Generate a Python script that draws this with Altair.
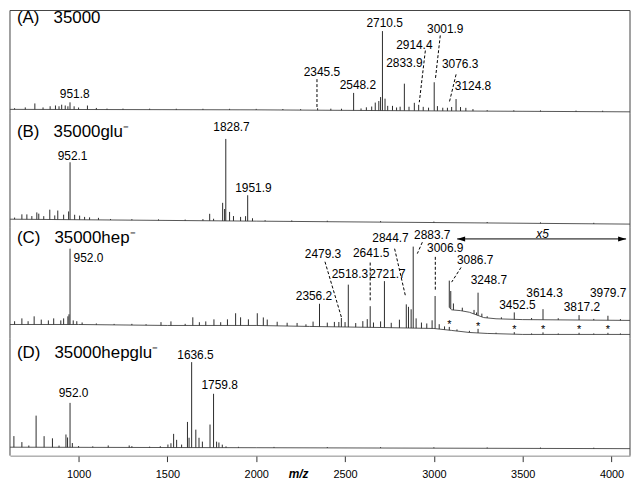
import altair as alt
import numpy as np
import pandas as pd

FONT = "Liberation Sans, Arial, Helvetica, sans-serif"
INK = "#2b2b2b"
W = 624
X_DOMAIN = [614, 4104]
TICKS = [1000, 1500, 2000, 2500, 3000, 3500, 4000]

# ---------------- Panel A : 35000 ----------------
A_title = "(A)\u00a0\u00a0\u00a035000"
A_base = [(614, 0), (2000, -0.6), (3000, -1.9), (4104, -3.1)]
A_peaks = [(640, 1.5), (700, 2.5), (754, 7.5), (800, 2.5), (840, 4), (870, 5), (890, 4),
           (905, 6), (925, 5), (940, 4), (951.8, 9), (975, 4), (1000, 2.5), (1050, 5),
           (1100, 2), (1160, 1.2), (1250, 1.2), (1400, 1.2), (1550, 1.2), (1700, 1.2),
           (1850, 1.2), (2000, 1.2), (2150, 1.2), (2250, 1.2), (2345.5, 2.5), (2420, 2),
           (2480, 2), (2548.2, 22), (2590, 2.5), (2620, 4), (2650, 5), (2670, 10), (2690, 12),
           (2700, 17), (2710.5, 100), (2725, 15), (2740, 6), (2767, 6), (2790, 4), (2810, 5),
           (2833.9, 34), (2860, 5), (2890, 10), (2914.4, 7.5), (2940, 5), (2970, 4),
           (3001.9, 36), (3020, 6), (3050, 4), (3076.3, 4), (3100, 5), (3124.8, 15),
           (3150, 5), (3180, 4), (3220, 2.5), (3300, 1.2), (3450, 1.2), (3600, 1.2),
           (3800, 1.2), (3950, 1.2)]
A_labels = [("951.8", 978, 19.4), ("2345.5", 2370, 47), ("2548.2", 2572, 31),
            ("2710.5", 2723, 108.5), ("2833.9", 2834, 58), ("2914.4", 2890, 81.5),
            ("3001.9", 3064, 101), ("3076.3", 3148, 56.5), ("3124.8", 3220, 29)]
A_leaders = [(2342, 38, 2342, 2), (2952, 74, 2918, 9), (3036, 93, 3008, 37),
             (3125, 44, 3086, 8)]

# ---------------- Panel B : 35000glu- ----------------
B_title = "(B)\u00a0\u00a0\u00a035000glu\u207b"
B_base = [(614, 1.8), (2000, -0.6), (4104, -4.2)]
B_peaks = [(640, 2), (681, 6), (709, 6), (737, 4), (765, 8.5), (776, 7), (804, 4), (838, 12),
           (866, 5), (883, 11), (916, 6), (944, 10), (952.1, 70), (978, 6), (1006, 5),
           (1034, 3.5), (1062, 3), (1112, 2.5), (1180, 1.2), (1300, 1.2), (1450, 1.2),
           (1600, 1.2), (1700, 2), (1738, 8.5), (1760, 2.5), (1811, 22), (1822, 14.5),
           (1828.7, 100), (1850, 11), (1872, 6), (1912, 5), (1940, 6), (1951.9, 31.5),
           (1979, 3.5), (2050, 1.2), (2200, 1.2), (2400, 1.2), (2700, 1.2), (3000, 1.2),
           (3300, 1.2), (3600, 1.2), (3900, 1.2)]
B_labels = [("952.1", 966, 79), ("1828.7", 1861, 114), ("1951.9", 1984, 40)]
B_leaders = []

# ---------------- Panel C : 35000hep- ----------------
C_title = "(C)\u00a0\u00a0\u00a035000hep\u207b"
C_base = [(614, 0), (1000, 0), (1500, -1.2), (2000, -1.2), (2300, -2.4), (2700, -3.7),
          (3000, -4.9), (3100, -7.3), (3200, -9.8), (3300, -11), (3500, -12.2), (4104, -12.2)]
C_peaks = [(640, 4), (681, 7.5), (716, 4), (750, 10), (790, 6), (830, 5), (860, 7.5), (900, 5),
           (916, 7.5), (940, 10), (946, 12.5), (952.0, 93), (970, 5), (990, 4), (1020, 2.5),
           (1100, 1.5), (1200, 1.2), (1300, 1.5), (1380, 1.2), (1464, 4), (1520, 5), (1600, 2),
           (1643, 10), (1680, 4), (1716, 5), (1762, 7.5), (1800, 4), (1838, 7.5), (1884, 15),
           (1912, 10), (1956, 7.5), (2006, 15), (2040, 10), (2062, 7.5), (2118, 5), (2174, 4),
           (2230, 4), (2280, 2.5), (2320, 6), (2356.2, 28), (2400, 5), (2440, 6), (2465, 6),
           (2479.3, 11), (2500, 6), (2518.3, 52), (2560, 5), (2600, 7.5), (2625, 10),
           (2641.5, 26), (2660, 6), (2700, 7.5), (2721.7, 57), (2760, 6), (2806, 10),
           (2844.7, 29), (2857, 26), (2872, 23), (2883.7, 100), (2900, 12), (2930, 7),
           (2960, 6), (2990, 10), (3006.9, 40), (3030, 6), (3060, 4), (3086.7, 4), (3130, 2),
           (3200, 2), (3248.7, 5), (3350, 1.2), (3452.5, 2.5), (3550, 1.2), (3614.3, 2.5),
           (3700, 1.2), (3817.2, 2), (3900, 1.2), (3979.7, 2), (4050, 1.2)]
C5_base = [(3086, 21), (3100, 18), (3150, 17), (3200, 15), (3280, 8.5), (3350, 7),
           (3500, 6), (4104, 5)]
C5_peaks = [(3086.7, 33), (3095, 22), (3110, 8), (3160, 4), (3226, 5), (3240, 3),
            (3248.7, 28), (3270, 4), (3300, 2), (3380, 2), (3452.5, 8.5), (3550, 2),
            (3614.3, 13), (3700, 2), (3817.2, 6), (3900, 1.5), (3979.7, 5.5), (4050, 1.5)]
C_labels = [("952.0", 1056, 82), ("2356.2", 2325, 35), ("2479.3", 2376, 87),
            ("2518.3", 2527, 62), ("2641.5", 2647, 88), ("2721.7", 2739, 62),
            ("2844.7", 2756, 106), ("2883.7", 2991, 110), ("3006.9", 3064, 94),
            ("3086.7", 3232, 79), ("3248.7", 3310, 54), ("3452.5", 3470, 24),
            ("3614.3", 3623, 39), ("3817.2", 3833, 22), ("3979.7", 3981, 39)]
C_leaders = [(2387, 77, 2480, 8.5), (2641.5, 76, 2641.5, 29), (2779, 93, 2840, 35),
             (2935, 101, 2907, 87), (3008, 83, 3008, 41.5), (3153, 70, 3100, 52)]
C_stars_mz = [3086.7, 3248.7, 3452.5, 3614.3, 3817.2, 3979.7]
C_stars_int = [2.8, 0, -3.7, -3.7, -3.7, -3.7]
C_zoom_text = "x5"
C_zoom_span = (3131, 4082)
C_zoom_level = 105
C_zoom_text_pos = (3612, 111)

# ---------------- Panel D : 35000hepglu- ----------------
D_title = "(D)\u00a0\u00a0\u00a035000hepglu\u207b"
D_base = [(614, 0), (2000, -0.6), (4104, -1.7)]
D_peaks = [(636, 13), (681, 6), (720, 2), (761, 37), (806, 13), (853, 10.5), (890, 2),
           (929, 15), (938, 11.5), (952.0, 52), (965, 5), (1000, 1.5), (1080, 1.2),
           (1167, 2.3), (1285, 2.3), (1300, 1.5), (1400, 1), (1460, 1.5), (1503, 3.5),
           (1520, 5), (1535, 16), (1552, 9), (1580, 3.5), (1613, 30), (1622, 11.5),
           (1636.5, 100), (1660, 21), (1678, 11.5), (1697, 7), (1740, 27), (1759.8, 63),
           (1777, 7), (1790, 6), (1809, 3.5), (1830, 1.5), (1900, 1), (2100, 1), (2400, 1),
           (2700, 1), (3000, 1), (3300, 1), (3600, 1), (3900, 1)]
D_labels = [("952.0", 972, 63), ("1636.5", 1658, 107.5), ("1759.8", 1794, 73)]
D_leaders = []

xsc = alt.Scale(domain=X_DOMAIN, nice=False, zero=False)
ONE = pd.DataFrame({"k": [0]})


def trace_layers(base, peaks, X, Y):
    bdf = pd.DataFrame(base, columns=["mz", "y"])
    pdf = pd.DataFrame(peaks, columns=["mz", "h"])
    pdf["y0"] = np.interp(pdf["mz"], bdf["mz"], bdf["y"])
    pdf["y1"] = pdf["y0"] + pdf["h"]
    line = alt.Chart(bdf).mark_line(color=INK, strokeWidth=0.8).encode(x=X("mz"), y=Y("y"))
    rules = alt.Chart(pdf).mark_rule(color=INK, strokeWidth=1).encode(
        x=X("mz"), y=Y("y0"), y2=alt.Y2("y1"))
    return [line, rules]


def panel(title, title_y, H, b, hmax, base, peaks, labels, leaders, extra=None,
          axis=None, top=False):
    ysc = alt.Scale(domain=[-b * 100 / hmax, (H - b) * 100 / hmax], nice=False, zero=False)

    def X(f):
        return alt.X(f, type="quantitative", scale=xsc, axis=axis)

    def Y(f):
        return alt.Y(f, type="quantitative", scale=ysc, axis=None)

    layers = trace_layers(base, peaks, X, Y)
    if extra:
        layers += extra(X, Y)
    if leaders:
        ldf = pd.DataFrame(leaders, columns=["x1", "y1", "x2", "y2"])
        layers.append(alt.Chart(ldf).mark_rule(color="black", strokeWidth=1, strokeDash=[3, 2])
                      .encode(x=X("x1"), y=Y("y1"), x2=alt.X2("x2"), y2=alt.Y2("y2")))
    tdf = pd.DataFrame(labels, columns=["t", "mz", "y"])
    layers.append(alt.Chart(tdf).mark_text(font=FONT, fontSize=12, color="black",
                                           align="center", baseline="middle")
                  .encode(x=X("mz"), y=Y("y"), text="t:N"))
    layers.append(alt.Chart(pd.DataFrame({"t": [title]})).mark_text(
        font=FONT, fontSize=17, color="black", align="left", baseline="middle")
        .encode(x=alt.value(7), y=alt.value(title_y), text="t:N"))
    layers.append(alt.Chart(ONE).mark_rule(color="#444", strokeWidth=1).encode(
        x=alt.value(0), y=alt.value(0), y2=alt.value(H)))
    layers.append(alt.Chart(ONE).mark_rule(color="#444", strokeWidth=1).encode(
        x=alt.value(W), y=alt.value(0), y2=alt.value(H)))
    if top:
        layers.append(alt.Chart(ONE).mark_rule(color="#444", strokeWidth=1).encode(
            x=alt.value(0), x2=alt.value(W), y=alt.value(0)))
    return alt.layer(*layers).properties(width=W, height=H)


def c_extra(X, Y):
    out = trace_layers(C5_base, C5_peaks, X, Y)
    sdf = pd.DataFrame({"mz": C_stars_mz, "y": C_stars_int, "t": ["*"] * len(C_stars_mz)})
    out.append(alt.Chart(sdf).mark_text(font=FONT, fontSize=11, color="black",
                                        baseline="middle", dy=2.5)
               .encode(x=X("mz"), y=Y("y"), text="t:N"))
    adf = pd.DataFrame({"a": [C_zoom_span[0]], "b": [C_zoom_span[1]], "y": [C_zoom_level]})
    out.append(alt.Chart(adf).mark_rule(color="black", strokeWidth=1)
               .encode(x=X("a"), x2=alt.X2("b"), y=Y("y")))
    out.append(alt.Chart(adf).mark_point(shape="M 0 0 L 1 -0.32 L 1 0.32 Z", size=256,
                                         filled=True, color="black", opacity=1)
               .encode(x=X("a"), y=Y("y")))
    out.append(alt.Chart(adf).mark_point(shape="M 0 0 L -1 -0.32 L -1 0.32 Z", size=256,
                                         filled=True, color="black", opacity=1)
               .encode(x=X("b"), y=Y("y")))
    xdf = pd.DataFrame({"mz": [C_zoom_text_pos[0]], "y": [C_zoom_text_pos[1]], "t": [C_zoom_text]})
    out.append(alt.Chart(xdf).mark_text(font=FONT, fontSize=12, fontStyle="italic",
                                        color="black", baseline="middle")
               .encode(x=X("mz"), y=Y("y"), text="t:N"))
    return out


bottom_axis = alt.Axis(values=TICKS, tickSize=6, tickColor="#333", domainColor="#888",
                       labelFont=FONT, labelFontSize=11, labelColor="black", labelPadding=7,
                       grid=False, format="d", labelFlush=False,
                       title="m/z", titleFont=FONT, titleFontSize=12, titleFontStyle="italic",
                       titleFontWeight="bold", titleX=290, titleY=18, titleAlign="center",
                       titleBaseline="middle", titleColor="black")

pA = panel(A_title, 8, 104, 4.5, 80, A_base, A_peaks, A_labels, A_leaders, top=True)
pB = panel(B_title, 18, 114, 6.5, 82.5, B_base, B_peaks, B_labels, B_leaders)
pC = panel(C_title, 11, 112, 14, 82, C_base, C_peaks, C_labels, C_leaders, extra=c_extra)
pD = panel(D_title, 15, 118, 8.5, 86, D_base, D_peaks, D_labels, D_leaders, axis=bottom_axis)

chart = alt.vconcat(pA, pB, pC, pD, spacing=0, bounds="flush").properties(
    padding=0).configure_view(stroke=None)

chart.save("out.html", embed_options={"renderer": "svg", "actions": False})
